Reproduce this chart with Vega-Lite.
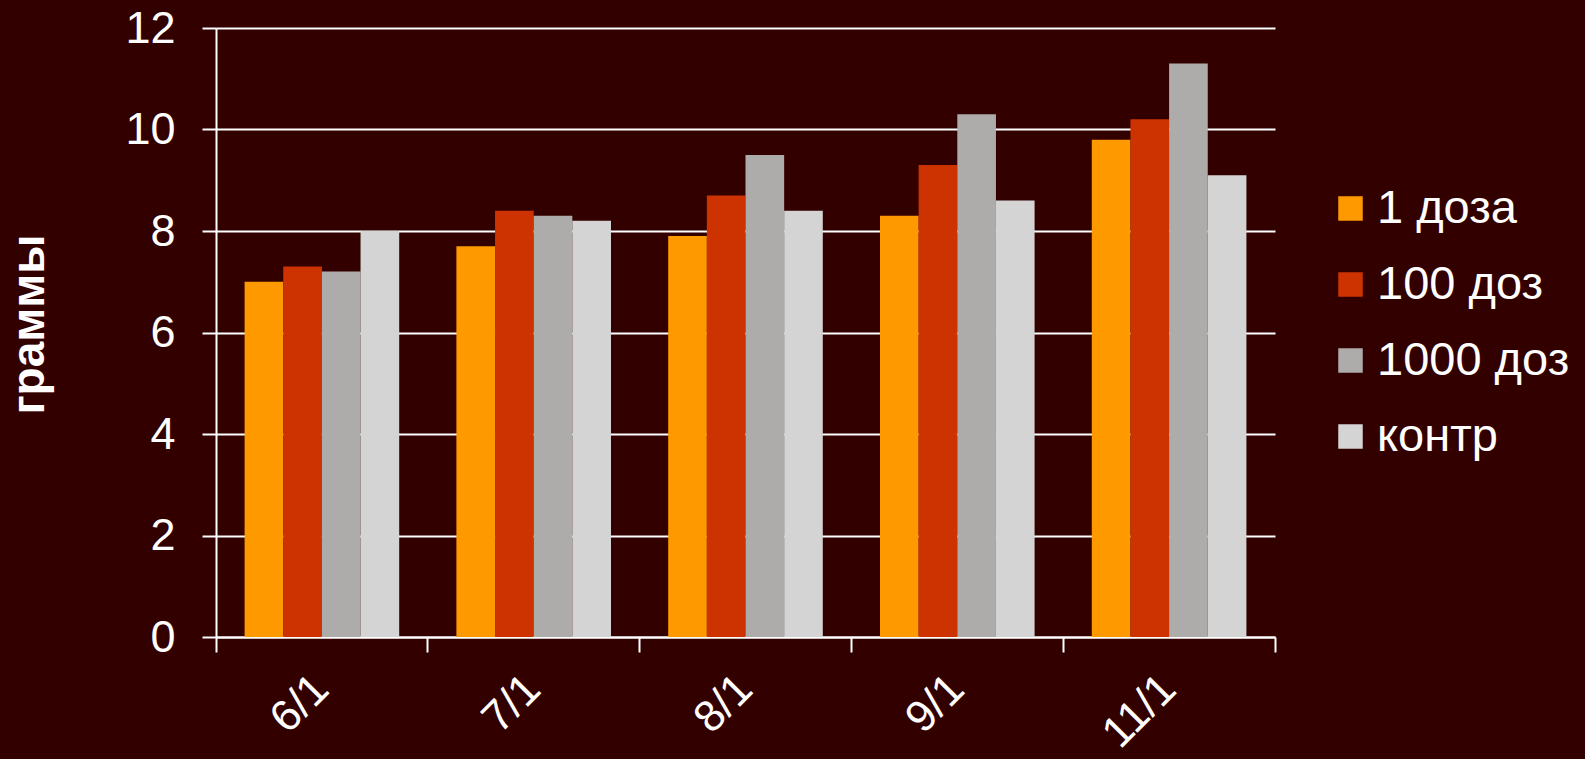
{
  "$schema": "https://vega.github.io/schema/vega-lite/v6.json",
  "autosize": {"type": "none"},
  "padding": {"left": 216, "top": 28, "right": 310, "bottom": 122},
  "width": 1059,
  "height": 609,
  "background": "#330000",
  "config": {
    "font": "Liberation Sans",
    "view": {"stroke": null}
  },
  "data": {
    "values": [
      {"date": "6/1", "series": "1 доза", "value": 7.0},
      {"date": "6/1", "series": "100 доз", "value": 7.3},
      {"date": "6/1", "series": "1000 доз", "value": 7.2},
      {"date": "6/1", "series": "контр", "value": 8.0},
      {"date": "7/1", "series": "1 доза", "value": 7.7},
      {"date": "7/1", "series": "100 доз", "value": 8.4},
      {"date": "7/1", "series": "1000 доз", "value": 8.3},
      {"date": "7/1", "series": "контр", "value": 8.2},
      {"date": "8/1", "series": "1 доза", "value": 7.9},
      {"date": "8/1", "series": "100 доз", "value": 8.7},
      {"date": "8/1", "series": "1000 доз", "value": 9.5},
      {"date": "8/1", "series": "контр", "value": 8.4},
      {"date": "9/1", "series": "1 доза", "value": 8.3},
      {"date": "9/1", "series": "100 доз", "value": 9.3},
      {"date": "9/1", "series": "1000 доз", "value": 10.3},
      {"date": "9/1", "series": "контр", "value": 8.6},
      {"date": "11/1", "series": "1 доза", "value": 9.8},
      {"date": "11/1", "series": "100 доз", "value": 10.2},
      {"date": "11/1", "series": "1000 доз", "value": 11.3},
      {"date": "11/1", "series": "контр", "value": 9.1}
    ]
  },
  "mark": {"type": "bar"},
  "encoding": {
    "x": {
      "field": "date",
      "type": "nominal",
      "sort": ["6/1", "7/1", "8/1", "9/1", "11/1"],
      "scale": {"paddingInner": 0, "paddingOuter": 0},
      "axis": {
        "title": null,
        "labelAngle": -45,
        "labelAlign": "right",
        "labelBaseline": "middle",
        "labelFontSize": 44,
        "labelColor": "#ffffff",
        "labelPadding": 30,
        "domainColor": "#ffffff",
        "domainWidth": 2,
        "tickColor": "#ffffff",
        "tickWidth": 2,
        "tickSize": 15,
        "bandPosition": 1,
        "tickExtra": true,
        "grid": false
      }
    },
    "xOffset": {
      "field": "series",
      "type": "nominal",
      "sort": ["1 доза", "100 доз", "1000 доз", "контр"],
      "scale": {"paddingInner": 0, "paddingOuter": 0.74}
    },
    "y": {
      "field": "value",
      "type": "quantitative",
      "scale": {"domain": [0, 12], "nice": false},
      "axis": {
        "title": "граммы",
        "titleFontSize": 46,
        "titleFontWeight": "bold",
        "titleColor": "#ffffff",
        "titleAngle": -90,
        "titleAlign": "center",
        "titleBaseline": "alphabetic",
        "titleX": -173,
        "titleY": 296,
        "values": [0, 2, 4, 6, 8, 10, 12],
        "labelFontSize": 45,
        "labelColor": "#ffffff",
        "labelPadding": 27,
        "domainColor": "#ffffff",
        "domainWidth": 2,
        "tickColor": "#ffffff",
        "tickWidth": 2,
        "tickSize": 14,
        "grid": true,
        "gridColor": "#ffffff",
        "gridWidth": 2
      }
    },
    "color": {
      "field": "series",
      "type": "nominal",
      "sort": ["1 доза", "100 доз", "1000 доз", "контр"],
      "scale": {
        "domain": ["1 доза", "100 доз", "1000 доз", "контр"],
        "range": ["#FF9900", "#CC3300", "#ADACAA", "#D4D4D4"]
      },
      "legend": {
        "title": null,
        "orient": "none",
        "legendX": 1111,
        "legendY": 157,
        "symbolType": "square",
        "symbolSize": 600,
        "symbolStrokeWidth": 0,
        "symbolOpacity": 1,
        "labelFontSize": 47,
        "labelColor": "#ffffff",
        "labelOffset": 3,
        "rowPadding": 28,
        "labelLimit": 400
      }
    }
  }
}
